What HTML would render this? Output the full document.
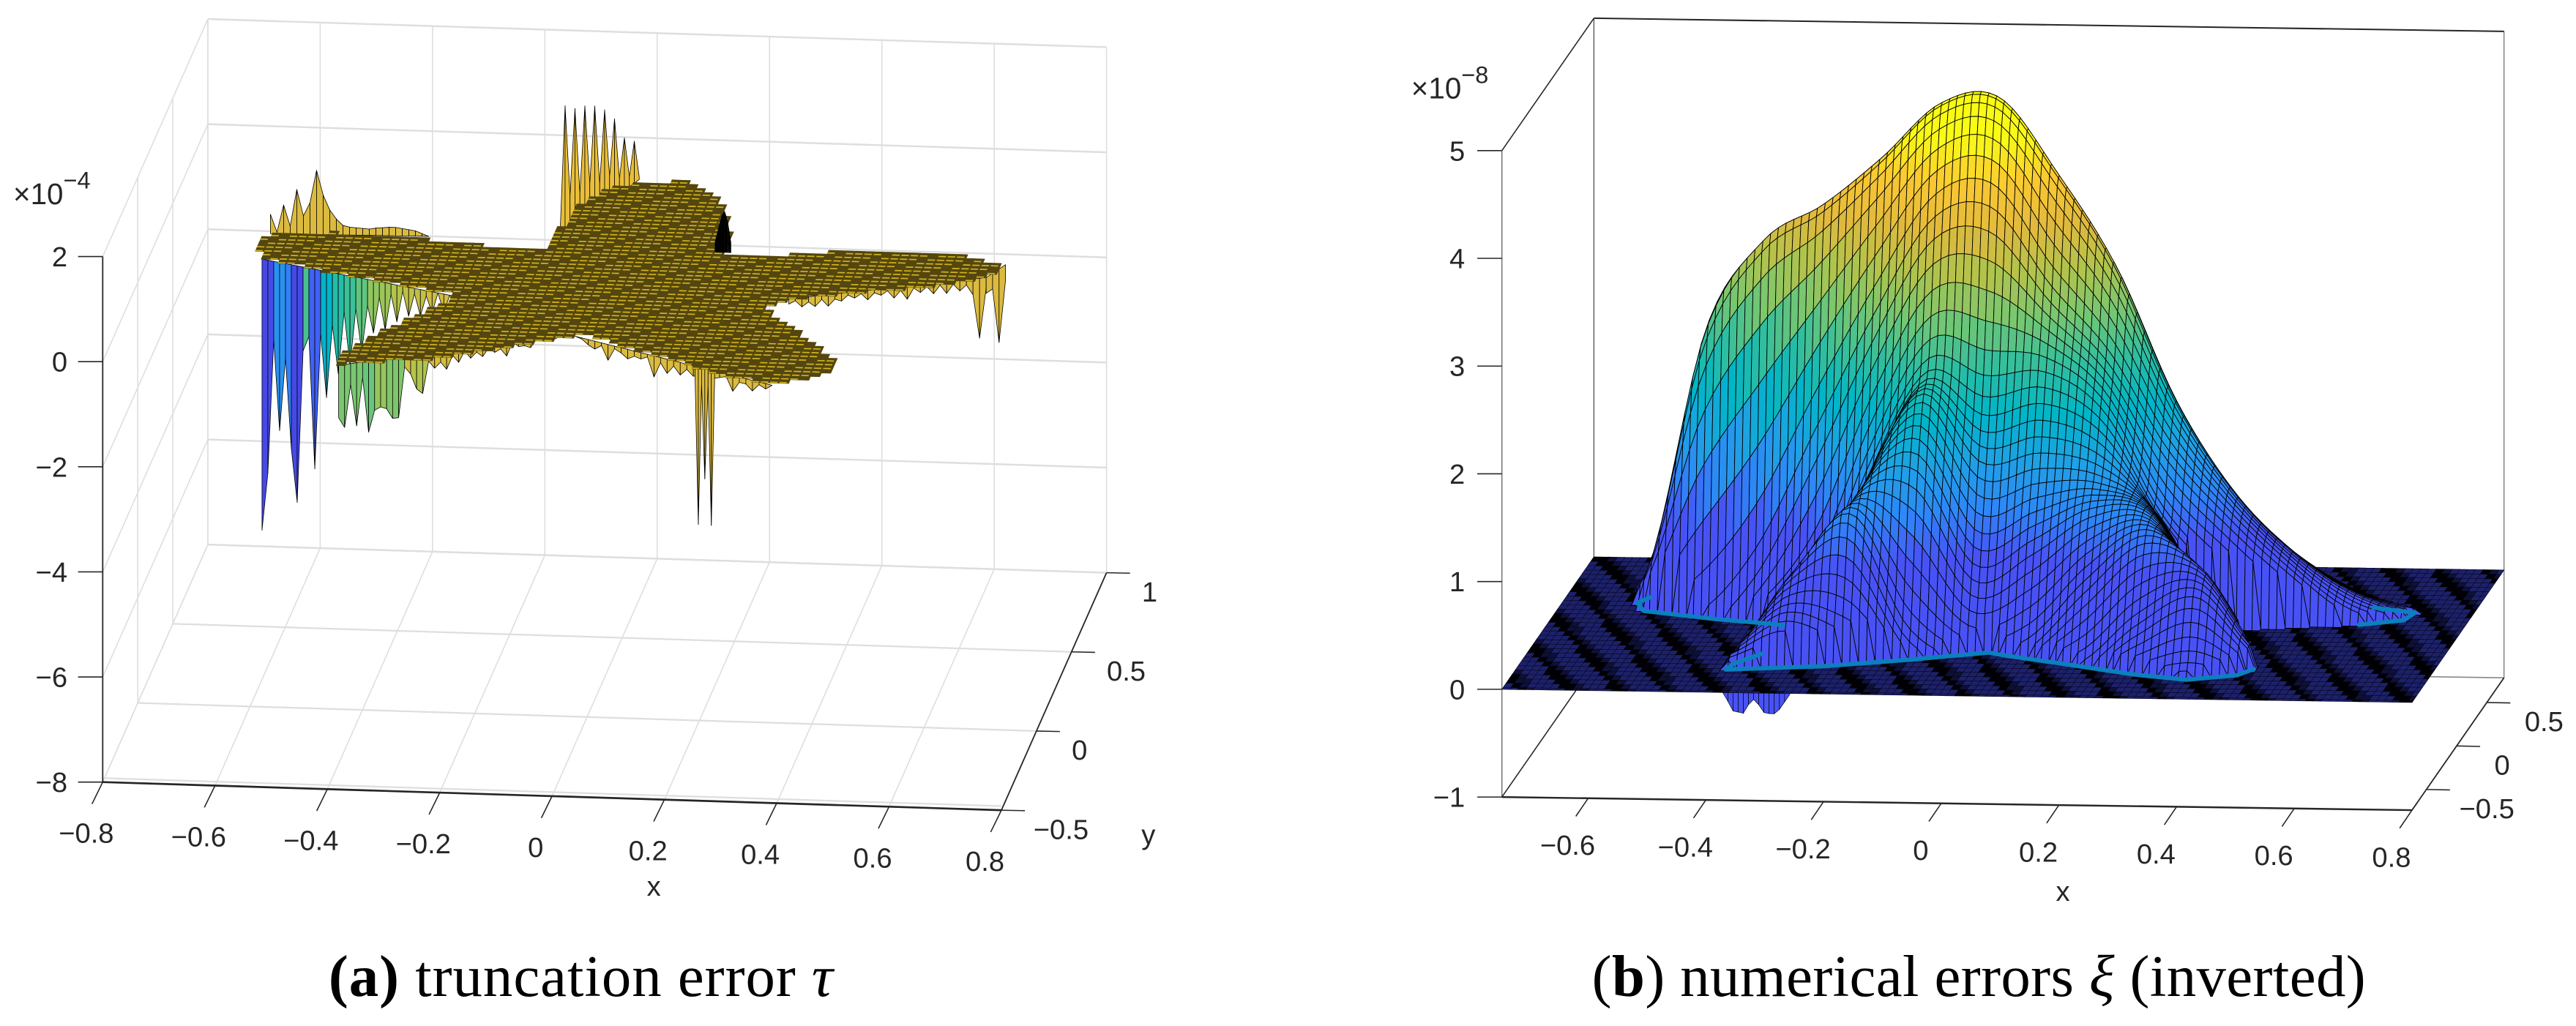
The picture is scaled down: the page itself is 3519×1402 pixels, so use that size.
<!DOCTYPE html>
<html lang="en">
<head>
<meta charset="utf-8">
<title>Truncation error and numerical errors</title>
<style>
html,body{margin:0;padding:0;background:#fff;}
svg{display:block;width:3519px;height:1402px;}
text{font-family:"Liberation Sans",sans-serif;fill:#262626;}
.cap{font-family:"Liberation Serif",serif;fill:#000;}
</style>
</head>
<body>
<svg id="fig" xmlns="http://www.w3.org/2000/svg" viewBox="0 0 1568 624.72" width="3519" height="1402">
  <g id="panelA"></g>
  <g id="panelB"></g>
  <text class="cap" x="200" y="606.5" font-size="36" textLength="307"><tspan font-weight="bold">(a)</tspan> truncation error <tspan font-style="italic">τ</tspan></text>
  <text class="cap" x="969" y="606.5" font-size="36" textLength="471">(<tspan font-weight="bold">b</tspan>) numerical errors <tspan font-style="italic">ξ</tspan> (inverted)</text>
</svg>
<script>
// ---------- shared data: star outline ----------
const starX = [-.620,-.605,-.504,-.400,-.295,-.190,-.109,-.089,-.048,.019,.085,.135,.168,.197,.212,.280,.377,.521,.624,.700,.690,.620,.480,.356,.319,.359,.442,.495,.474,.394,.300,.169,.056,.030,-.097,-.232,-.393,-.387,-.351,-.270,-.231,-.348,-.472,-.600];
const starY = [.269,.332,.349,.340,.318,.294,.293,.543,.682,.730,.733,.681,.593,.451,.299,.285,.323,.339,.334,.283,.196,.137,.080,.025,-.031,-.119,-.254,-.383,-.456,-.517,-.466,-.357,-.267,-.240,-.335,-.422,-.476,-.408,-.291,-.117,-.020,.040,.098,.178];

// ---------- panel (a) data ----------
const aXTicks = [-.8,-.6,-.4,-.2,0,.2,.4,.6,.8];
const aXLabels = ['−0.8','−0.6','−0.4','−0.2','0','0.2','0.4','0.6','0.8'];
const aYTicks = [-.5,0,.5,1];
const aYLabels = ['−0.5','0','0.5','1'];
const aZTicks = [-8,-6,-4,-2,0,2];
const aZLabels = ['−8','−6','−4','−2','0','2'];
const aPlateauZ = 0;
const backArmSpikes = [.37,.03,.55,.15,.85,.35,.6,1.22,.75,.47,.3,.18,.15,.14,.13,.12,.14,.15,.16,.16,.14,.12,.1,.05,0];
const topArmSpikes = [0,.1,2.44,.67,2.25,.57,2.16,.62,2.02,.48,1.81,.48,1.5,.3,1.0,.19,.8,.05];
const leftArmSpikes = [-5.16,-4.05,-1.5,-3.2,-1.8,-3.5,-4.5,-1.6,-1.3,-3.8,-1.2,-2.4,-1.0,-1.9,-.7,-1.7,-.6,-1.4,-.5,-1.0,-.3,-.9,-.2,-.7,-.1,-.55,-.1,-.5,-.1,-.4,0,-.35,0,-.3,0];
const lowerLeftSpikes = [-1.0,-1.2,-.4,-1.2,-.3,-1.35,-.95,-.9,-.95,-1.15,-1.15,-.2,-.35,-.65,-.75,-.15,-.3,-.2,-.35,-.1,-.25,-.05,-.2,-.1,-.2,-.05,-.15,-.1,-.25,0,-.1,-.1,-.15,0,-.05,0,-.05,0,0];
const lowerRightSpikes = [0,-.02,-.1,-.15,-.05,-.3,-.05,-.1,-.18,-.1,-.12,-.05,-.4,-.1,-.27,-.1,-.24,-.1,-.2,-.15,-.2,-.15,-.1,-.05,-.3,-.1,-.1,-.2,-.05,-.1,0];
const thinDeepSpikes = [-.2,-3.0,-.3,-2.1,-.3,-2.95,-.2];
const rightArmSpikes = [-.1,-.05,-.18,-.1,-.2,-.08,-.22,-.1,-.15,-.05,-.12,-.05,-.18,-.06,-.12,-.05,-.2,-.07,-.25,-.05,-.15,-.05,-.2,-.05,-.22,-.06,-.2,-.1,-.3,-1.14,-.2];
const rightTipSpikes = [-.3,-.3,-1.4,-.3];
const darkFoldHeights = [.2,.45,.7,.8,.6,.2];

// ---------- panel (b) data ----------
const bXTicks = [-.6,-.4,-.2,0,.2,.4,.6,.8];
const bXLabels = ['−0.6','−0.4','−0.2','0','0.2','0.4','0.6','0.8'];
const bYTicks = [-.5,0,.5];
const bYLabels = ['−0.5','0','0.5'];
const bZTicks = [-1,0,1,2,3,4,5];
const bZLabels = ['−1','0','1','2','3','4','5'];
const heightGridX = [-.8,-.7,-.6,-.5,-.4,-.3,-.2,-.1,0,.1,.2,.3,.4,.5,.6,.7,.8];
const heightGridY = [.8,.7,.6,.5,.4,.3,.2,.1,0,-.1,-.2,-.3,-.4,-.5,-.6];
const heightRow08 = [0,0,0,0,0,0,0,0,0,0,0,0,0,0,0,0,0];
const heightRow07 = [0,0,0,0,0,0,.1,.4,.7,.6,.2,0,0,0,0,0,0];
const heightRow06 = [0,0,0,.2,.5,.8,1,1.3,1.7,1.4,.7,.3,.1,0,0,0,0];
const heightRow05 = [0,0,.1,.9,1.3,1.6,2.2,2.3,2.7,2.2,1.2,.8,.4,.2,0,0,0];
const heightRow04 = [0,0,.3,2,2.6,3,3.3,3.5,3.6,3,2,1.4,.8,.4,.1,0,0];
const heightRow03 = [0,.1,.3,2.4,3.05,3.45,3.9,4.4,4.45,3.75,2.9,1.8,1,.5,.18,.04,0];
const heightRow02 = [0,.1,.3,2.38,3.27,3.65,4.14,4.68,4.75,4.05,3.2,1.99,1.16,.61,.23,.05,0];
const heightRow01 = [0,0,0,0,.6,1.7,2.8,3.7,3.8,3.1,2.5,1.6,1,.5,.1,0,0];
const heightRow00 = [0,0,0,0,0,.1,1.5,2.5,2.35,2.4,2.05,1.1,.5,.1,0,0,0];
const heightRowM1 = [0,0,0,0,0,.1,1.4,2.2,1.5,1.6,1.55,1.2,.3,0,0,0,0];
const heightRowM2 = [0,0,0,0,0,.3,1.4,1.5,.65,.9,1.25,1.25,.5,0,0,0,0];
const heightRowM3 = [0,0,0,0,0,.75,1.25,.3,0,.1,.65,1.1,.85,.1,0,0,0];
const heightRowM4 = [0,0,0,0,.1,.5,.35,0,0,0,0,.45,.7,.15,0,0,0];
const heightRowM5 = [0,0,0,0,.05,.1,0,0,0,0,0,.02,.1,0,0,0,0];
const heightRowM6 = [0,0,0,0,0,0,0,0,0,0,0,0,0,0,0,0,0];
const heightGrid = [heightRow08,heightRow07,heightRow06,heightRow05,heightRow04,heightRow03,heightRow02,heightRow01,heightRow00,heightRowM1,heightRowM2,heightRowM3,heightRowM4,heightRowM5,heightRowM6];
const dipDepths = [0,-.08,-.17,-.18,-.19,-.11,-.06,-.11,-.18,-.19,-.19,-.15,-.08,-.01];

// ---------- helpers ----------
const NS = 'http://www.w3.org/2000/svg';
const panelA = document.getElementById('panelA');
const panelB = document.getElementById('panelB');
function mk(parent, tag, attrs, txt){
  const el = document.createElementNS(NS, tag);
  for (const k in attrs) el.setAttribute(k, attrs[k]);
  if (txt !== undefined) el.textContent = txt;
  parent.appendChild(el);
  return el;
}
function fx(v){ return v.toFixed(2); }
function ptsStr(list){ return list.map(p => fx(p[0]) + ',' + fx(p[1])).join(' '); }

const parulaStops = [[62,38,168],[72,82,244],[46,135,247],[31,161,229],[0,181,199],[47,190,160],[115,199,115],[176,196,76],[225,185,61],[250,200,50],[249,251,21]];
function parula(t){
  t = Math.max(0, Math.min(1, t)) * 10;
  const i = Math.min(9, Math.floor(t)), f = t - i;
  const a = parulaStops[i], b = parulaStops[i + 1];
  return 'rgb(' + Math.round(a[0] + (b[0] - a[0]) * f) + ',' + Math.round(a[1] + (b[1] - a[1]) * f) + ',' + Math.round(a[2] + (b[2] - a[2]) * f) + ')';
}
function inStar(x, y){
  let c = false;
  for (let i = 0, j = starX.length - 1; i < starX.length; j = i++) {
    if ((starY[i] > y) !== (starY[j] > y) && x < (starX[j] - starX[i]) * (y - starY[i]) / (starY[j] - starY[i]) + starX[i]) c = !c;
  }
  return c;
}

// ---------- panel (a) axes ----------
function aPx(x, y){ return 62.5 + (x + .8) * 341.9 + (y + .5) * 42.67; }
function aPy(x, y, z){ return 476.2 + (x + .8) * 10.7 - (y + .5) * 96.4 - (z + 8) * 32; }
function aP(x, y, z){ return [aPx(x, y), aPy(x, y, z)]; }
function aLine(p, q, color, w, name){
  const el = mk(panelA, 'line', {x1:fx(p[0]), y1:fx(p[1]), x2:fx(q[0]), y2:fx(q[1]), stroke:color, 'stroke-width':w});
  
  
  return el;
}
const aGrid = '#dedede';
aXTicks.forEach(x => {
  aLine(aP(x,1,-8), aP(x,1,2), aGrid, .7, 'back-wall-gridline');
  aLine(aP(x,-.5,-8), aP(x,1,-8), aGrid, .7, 'floor-gridline');
});
aYTicks.forEach(y => {
  aLine(aP(-.8,y,-8), aP(-.8,y,2), aGrid, .7, 'side-wall-gridline');
  aLine(aP(-.8,y,-8), aP(.8,y,-8), aGrid, 1, 'floor-gridline');
});
aZTicks.forEach(z => {
  aLine(aP(-.8,1,z), aP(.8,1,z), aGrid, 1.1, 'back-wall-gridline');
  aLine(aP(-.8,-.5,z), aP(-.8,1,z), aGrid, .7, 'side-wall-gridline');
});
aLine([62.5,473.8], [609.6,490.8], aGrid, 1, 'floor-front-gridline');

// ---------- panel (a) spike curtains ----------
function aCurtain(ax, ay, bx, by, zs, name, colorZ){
  const g = mk(panelA, 'g', {});
  
  
  const n = zs.length - 1;
  for (let i = 0; i < n; i++) {
    const t0 = i / n, t1 = (i + 1) / n;
    const x0 = ax + (bx - ax) * t0, y0 = ay + (by - ay) * t0;
    const x1 = ax + (bx - ax) * t1, y1 = ay + (by - ay) * t1;
    const zm = colorZ === undefined ? Math.min(zs[i], zs[i + 1]) : colorZ;
    const poly = mk(g, 'polygon', {
      points: ptsStr([aP(x0,y0,aPlateauZ), aP(x1,y1,aPlateauZ), aP(x1,y1,aPlateauZ + zs[i + 1]), aP(x0,y0,aPlateauZ + zs[i])]),
      fill: parula(Math.max(.08, (zm + 4.5) / 5.4)), stroke: '#000', 'stroke-width': .35, 'stroke-linejoin': 'round'
    });
    
    
  }
}
aCurtain(-.605, .33, -.325, .344, backArmSpikes, 'back-arm-spikes', -.25);
aCurtain(-.099, .338, .0006, .739, topArmSpikes, 'top-arm-spikes', 0);
aCurtain(-.60, .17, -.22, -.03, leftArmSpikes, 'left-arm-spikes');
aCurtain(-.383, -.476, -.006, -.243, lowerLeftSpikes, 'lower-left-arm-spikes');
aCurtain(.01, -.25, .394, -.517, lowerRightSpikes, 'lower-right-arm-spikes', -.25);
aCurtain(.2435, -.411, .282, -.441, thinDeepSpikes, 'thin-deep-spikes', -.25);
aCurtain(.356, .025, .686, .196, rightArmSpikes, 'right-arm-spikes', -.25);
aCurtain(.686, .196, .71, .28, rightTipSpikes, 'right-tip-spikes', -.25);

// ---------- panel (a) flat star surface ----------
(function(){
  const hx = .0165, hy = .024;
  let olive = '', gold = '';
  for (let i = 0; i * hx < 1.6; i++) {
    for (let j = 0; j * hy < 1.5; j++) {
      const x = -.8 + i * hx, y = -.6 + j * hy;
      if (!inStar(x + hx / 2, y + hy / 2)) continue;
      const a = aP(x, y, aPlateauZ), b = aP(x + hx + .001, y, aPlateauZ), c = aP(x + hx + .001, y + hy + .001, aPlateauZ), d = aP(x, y + hy + .001, aPlateauZ);
      olive += 'M' + fx(a[0]) + ' ' + fx(a[1]) + 'L' + fx(b[0]) + ' ' + fx(b[1]) + 'L' + fx(c[0]) + ' ' + fx(c[1]) + 'L' + fx(d[0]) + ' ' + fx(d[1]) + 'Z';
      if ((i * 2 + j * 3) % 5 === 0) continue;
      const e = aP(x, y + hy * .1, aPlateauZ), f = aP(x + hx * .8, y + hy * .1, aPlateauZ), g = aP(x + hx * .8, y + hy * .42, aPlateauZ), k = aP(x, y + hy * .42, aPlateauZ);
      gold += 'M' + fx(e[0]) + ' ' + fx(e[1]) + 'L' + fx(f[0]) + ' ' + fx(f[1]) + 'L' + fx(g[0]) + ' ' + fx(g[1]) + 'L' + fx(k[0]) + ' ' + fx(k[1]) + 'Z';
    }
  }
  const base = mk(panelA, 'path', {d: olive, fill: '#54460e'});
  
  
  const dash = mk(panelA, 'path', {d: gold, fill: '#d0b420'});
  
  
})();
// dense dark fold on the right side of the top arm
(function(){
  const n = darkFoldHeights.length - 1;
  for (let i = 0; i < n; i++) {
    const x0 = .19 + .029 * i / n, x1 = .19 + .029 * (i + 1) / n;
    const f = mk(panelA, 'polygon', {points: ptsStr([aP(x0,.3,aPlateauZ), aP(x1,.3,aPlateauZ), aP(x1,.3,aPlateauZ + darkFoldHeights[i + 1]), aP(x0,.3,aPlateauZ + darkFoldHeights[i])]), fill: '#000'});
    
    
  }
})();

// ---------- panel (a) axes lines, ticks, labels ----------
aLine(aP(-.8,-.5,-8), aP(-.8,-.5,2), '#262626', .8, 'z-axis');
aLine(aP(-.8,-.5,-8), aP(.8,-.5,-8), '#262626', 1.2, 'x-axis');
aLine(aP(.8,-.5,-8), aP(.8,1,-8), '#262626', .8, 'y-axis');
aXTicks.forEach((x, i) => {
  const p = aP(x,-.5,-8);
  aLine(p, [p[0] - 6.5, p[1] + 13.3], '#262626', .7, 'x-tick');
  const t = mk(panelA, 'text', {x: fx(p[0] - 10), y: fx(p[1] + 37), 'font-size': 17, 'text-anchor': 'middle'}, aXLabels[i]);
  
  
});
aYTicks.forEach((y, i) => {
  const p = aP(.8,y,-8);
  aLine(p, [p[0] + 14.3, p[1] + .3], '#262626', .7, 'y-tick');
  const t = mk(panelA, 'text', {x: fx(p[0] + (y < 0 ? 19.5 : 21.5)), y: fx(p[1] + 17.5), 'font-size': 17}, aYLabels[i]);
  
  
});
aZTicks.forEach((z, i) => {
  const p = aP(-.8,-.5,z);
  aLine(p, [p[0] - 15, p[1]], '#262626', .7, 'z-tick');
  const t = mk(panelA, 'text', {x: fx(p[0] - 21.5), y: fx(p[1] + 6), 'font-size': 17, 'text-anchor': 'end'}, aZLabels[i]);
  
  
});
const aXT = mk(panelA, 'text', {x: 398, y: 545.5, 'font-size': 17, 'text-anchor': 'middle'}, 'x');


const aYT = mk(panelA, 'text', {x: 699, y: 514, 'font-size': 17, 'text-anchor': 'middle'}, 'y');


const aExp = mk(panelA, 'text', {x: 8, y: 124.3, 'font-size': 18}, '×10');


mk(aExp, 'tspan', {dy: -9.5, 'font-size': 14.5}, '−4');

// ---------- panel (b) axes ----------
const bXMin = -.7466, bXMax = .8, bYMin = -.738, bYMax = .784, bZMin = -1;
function bPx(x, y){ return 914.2 + (x - bXMin) * 358.2 + (y - bYMin) * 36.8; }
function bPy(x, y, z){ return 485.3 + (x - bXMin) * 5.17 - (y - bYMin) * 52.96 - (z - bZMin) * 65.6; }
function bP(x, y, z){ return [bPx(x, y), bPy(x, y, z)]; }
function bLine(p, q, color, w, name){
  const el = mk(panelB, 'line', {x1:fx(p[0]), y1:fx(p[1]), x2:fx(q[0]), y2:fx(q[1]), stroke:color, 'stroke-width':w});
  
  
  return el;
}
const bZTop = 5;
bLine(bP(bXMin,bYMax,bZMin), bP(bXMin,bYMax,bZTop), '#555', .6, 'back-left-edge');
bLine(bP(bXMax,bYMax,bZMin), bP(bXMax,bYMax,bZTop), '#777', .6, 'back-right-edge');
bLine(bP(bXMin,bYMax,bZTop), bP(bXMax,bYMax,bZTop), '#262626', .9, 'back-top-edge');
bLine(bP(bXMin,bYMin,bZTop), bP(bXMin,bYMax,bZTop), '#262626', .7, 'side-top-edge');
bLine(bP(bXMin,bYMin,-1), bP(bXMin,bYMin,bZTop), '#777', .7, 'z-axis');
bLine(bP(bXMin,bYMin,-1), bP(bXMin,bYMax,-1), '#262626', .7, 'floor-left-edge');
bLine(bP(bXMin,bYMax,-1), bP(bXMax,bYMax,-1), '#888', .7, 'floor-back-edge');
bLine(bP(bXMin,bYMin,-1), bP(bXMax,bYMin,-1), '#262626', 1.1, 'x-axis');
bLine(bP(bXMax,bYMin,-1), bP(bXMax,bYMax,-1), '#262626', .8, 'y-axis');

// ---------- panel (b) dip hanging below the plane ----------
(function(){
  const n = dipDepths.length - 1;
  for (let i = 0; i < n; i++) {
    const x0 = -.3714 + .1139 * i / n, x1 = -.3714 + .1139 * (i + 1) / n;
    const d = mk(panelB, 'polygon', {points: ptsStr([bP(x0,bYMin,0), bP(x1,bYMin,0), bP(x1,bYMin,dipDepths[i + 1]), bP(x0,bYMin,dipDepths[i])]), fill: parula(.1), stroke: '#000', 'stroke-width': .3});
    
    
  }
})();

// ---------- panel (b) z = 0 plane ----------
(function(){
  const hx = .01326, hy = .05;
  const cols = Math.ceil((bXMax - bXMin) / hx), rows = Math.ceil((bYMax - bYMin) / hy);
  let navy = '', dim = '', black = '';
  for (let i = 0; i < cols; i++) {
    for (let j = 0; j < rows; j++) {
      const x = bXMin + i * hx, x2 = Math.min(bXMax, x + hx);
      const y = bYMax - j * hy, y2 = Math.max(bYMin, y - hy);
      const a = bP(x,y,0), b = bP(x2,y,0), c = bP(x2,y2,0), d = bP(x,y2,0);
      const s = 'M' + fx(a[0]) + ' ' + fx(a[1]) + 'L' + fx(b[0]) + ' ' + fx(b[1]) + 'L' + fx(c[0]) + ' ' + fx(c[1]) + 'L' + fx(d[0]) + ' ' + fx(d[1]) + 'Z';
      const k = (((i - .88 * j) % 6.3) + 6.3) % 6.3;
      if (k < 1.5) black += s; else if (k < 2.6) dim += s; else navy += s;
    }
  }
  const n1 = mk(panelB, 'path', {d: navy, fill: '#1d2168', stroke: '#0a0b30', 'stroke-width': .35});
  
  
  const n2 = mk(panelB, 'path', {d: dim, fill: '#0e1038', stroke: '#06071a', 'stroke-width': .35});
  
  
  const n3 = mk(panelB, 'path', {d: black, fill: '#010105', stroke: '#010105', 'stroke-width': .35});
  
  
})();

// ---------- panel (b) boundary ring (under the surface) ----------
function bRing(from, to, name){
  const pts = [];
  const n = starX.length;
  for (let k = from; ; k = (k + 1) % n) {
    pts.push(bP(starX[k], starY[k], 0));
    if (k === to) break;
  }
  const r = mk(panelB, 'polyline', {points: ptsStr(pts), fill: 'none', stroke: '#0b80bd', 'stroke-width': 2.6, 'stroke-linejoin': 'round', 'stroke-linecap': 'round'});
  
  
}
bRing(0, 0, 'star-boundary-ring');

// ---------- panel (b) height surface, painted back to front ----------
function catmull(p0, p1, p2, p3, t){
  return .5 * (2 * p1 + (p2 - p0) * t + (2 * p0 - 5 * p1 + 4 * p2 - p3) * t * t + (3 * p1 - p0 - 3 * p2 + p3) * t * t * t);
}
function gridVal(r, c){
  r = Math.max(0, Math.min(heightGrid.length - 1, r));
  c = Math.max(0, Math.min(heightGridX.length - 1, c));
  return heightGrid[r][c];
}
function heightAt(x, y){
  const dx = heightGridX[1] - heightGridX[0], dy = heightGridY[0] - heightGridY[1];
  const u = (x - heightGridX[0]) / dx, v = (heightGridY[0] - y) / dy;
  const c = Math.floor(u), r = Math.floor(v), tu = u - c, tv = v - r;
  const col = [];
  for (let m = -1; m <= 2; m++) {
    col.push(catmull(gridVal(r + m, c - 1), gridVal(r + m, c), gridVal(r + m, c + 1), gridVal(r + m, c + 2), tu));
  }
  return Math.max(0, catmull(col[0], col[1], col[2], col[3], tv));
}
(function(){
  const hx = .01326, hy = .017;
  const cols = Math.ceil((bXMax - bXMin) / hx), rows = Math.ceil((bYMax - bYMin) / hy);
  const mesh = [];
  const inside = [];
  for (let j = 0; j <= rows; j++) {
    const row = [], mask = [];
    const y = bYMax - j * hy;
    for (let i = 0; i <= cols; i++) {
      const x = bXMin + i * hx;
      const ins = inStar(x, y);
      mask.push(ins);
      row.push(ins ? heightAt(x, y) : 0);
    }
    mesh.push(row);
    inside.push(mask);
  }
  const g = mk(panelB, 'g', {});
  
  
  for (let j = 0; j < rows; j++) {
    const y = bYMax - j * hy, y2 = y - hy;
    for (let i = 0; i < cols; i++) {
      if (!(inside[j][i] || inside[j][i + 1] || inside[j + 1][i] || inside[j + 1][i + 1])) continue;
      const x = bXMin + i * hx, x2 = x + hx;
      const z = (mesh[j][i] + mesh[j][i + 1] + mesh[j + 1][i] + mesh[j + 1][i + 1]) / 4;
      const cell = mk(g, 'polygon', {
        points: ptsStr([bP(x,y,mesh[j][i]), bP(x2,y,mesh[j][i + 1]), bP(x2,y2,mesh[j + 1][i + 1]), bP(x,y2,mesh[j + 1][i])]),
        fill: parula(Math.max(.1, (z - .45) / 4)), stroke: '#000', 'stroke-width': .4, 'stroke-linejoin': 'round'
      });
      
      
    }
  }
})();
// visible parts of the ring in front of the surface
bRing(18, 21, 'star-boundary-ring-right-tip');
bRing(27, 38, 'star-boundary-ring-front');
bRing(41, 1, 'star-boundary-ring-left-tip');

// ---------- panel (b) ticks and labels ----------
bXTicks.forEach((x, i) => {
  const p = bP(x,bYMin,-1);
  bLine(p, [p[0] - 7.5, p[1] + 11], '#262626', .7, 'x-tick');
  const t = mk(panelB, 'text', {x: fx(p[0] - 12.5), y: fx(p[1] + 34.5), 'font-size': 17, 'text-anchor': 'middle'}, bXLabels[i]);
  
  
});
bYTicks.forEach((y, i) => {
  const p = bP(bXMax,y,-1);
  bLine(p, [p[0] + 14.3, p[1] + .3], '#262626', .7, 'y-tick');
  const t = mk(panelB, 'text', {x: fx(p[0] + (y < 0 ? 20 : 23)), y: fx(p[1] + 17.5), 'font-size': 17}, bYLabels[i]);
  
  
});
bZTicks.forEach((z, i) => {
  const p = bP(bXMin,bYMin,z);
  bLine(p, [p[0] - 15, p[1]], '#262626', .7, 'z-tick');
  const t = mk(panelB, 'text', {x: fx(p[0] - 22.5), y: fx(p[1] + 6), 'font-size': 17, 'text-anchor': 'end'}, bZLabels[i]);
  
  
});
const bXT = mk(panelB, 'text', {x: 1255.7, y: 548.5, 'font-size': 17, 'text-anchor': 'middle'}, 'x');


const bExp = mk(panelB, 'text', {x: 859, y: 60, 'font-size': 18}, '×10');


mk(bExp, 'tspan', {dy: -9.5, 'font-size': 14.5}, '−8');
</script>
</body>
</html>
